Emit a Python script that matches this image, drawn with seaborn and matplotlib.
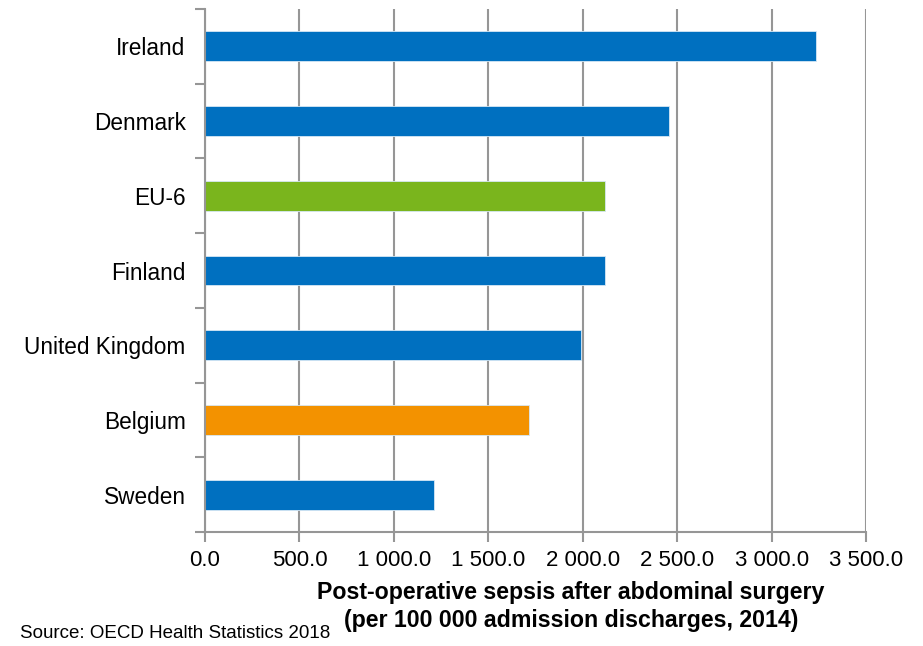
import matplotlib
matplotlib.use("Agg")
import matplotlib.pyplot as plt
import seaborn as sns
import pandas as pd
from matplotlib.ticker import FuncFormatter, FixedLocator

countries = ["Ireland", "Denmark", "EU-6", "Finland", "United Kingdom", "Belgium", "Sweden"]
values = [3237, 2459, 2120, 2116, 1990, 1713, 1210]
groups = ["country", "country", "eu", "country", "country", "belgium", "country"]
palette = {"country": "#0070C0", "eu": "#7AB51D", "belgium": "#F39200"}

df = pd.DataFrame({"country": countries, "value": values, "group": groups})

sns.set_style("white")
plt.rcParams["font.family"] = ["Liberation Sans", "DejaVu Sans"]
plt.rcParams["text.color"] = "black"

fig = plt.figure(figsize=(9.23, 6.46), dpi=100)
ax = fig.add_axes([205/923, 1-532/646, (866-205)/923, (532-9)/646])

sns.barplot(data=df, y="country", x="value", hue="group", palette=palette,
            order=countries, hue_order=["country", "eu", "belgium"], dodge=False,
            width=0.4, orient="h", legend=False, ax=ax, saturation=1,
            edgecolor="#d6e8f5", linewidth=0.6)

ax.set_xlim(0, 3500)
ax.set_ylim(len(countries) - 0.5, -0.5)
ax.set_xticks(range(0, 3501, 500))
ax.xaxis.set_major_formatter(FuncFormatter(lambda v, p: f"{v:,.1f}".replace(",", " ")))
ax.grid(axis="x", color="#969696", linewidth=1.5)
ax.set_axisbelow(True)
for s in ["top", "right"]:
    ax.spines[s].set_visible(False)
for s in ["left", "bottom"]:
    ax.spines[s].set_color("#969696")
    ax.spines[s].set_linewidth(1.5)

ax.tick_params(axis="y", which="major", left=False, length=0, labelsize=16.3, pad=14, labelcolor="black")
ax.yaxis.set_minor_locator(FixedLocator([i - 0.5 for i in range(len(countries) + 1)]))
ax.tick_params(axis="y", which="minor", left=True, length=7, width=1.5, color="#969696", direction="out")
ax.tick_params(axis="x", which="major", bottom=True, length=7, width=1.5, color="#969696", direction="out",
               labelsize=16, pad=6, labelcolor="black")
ax.set_xlabel("")
ax.set_ylabel("")

fig.text(571/923, 1-593/646, "Post-operative sepsis after abdominal surgery",
         ha="center", va="center", fontsize=16.7, fontweight="bold", color="black")
fig.text(571/923, 1-621/646, "(per 100 000 admission discharges, 2014)",
         ha="center", va="center", fontsize=16.7, fontweight="bold", color="black")
fig.text(20/923, 1-633/646, "Source: OECD Health Statistics 2018",
         ha="left", va="center", fontsize=13.5, color="black")

fig.savefig("out.png", dpi=100)
